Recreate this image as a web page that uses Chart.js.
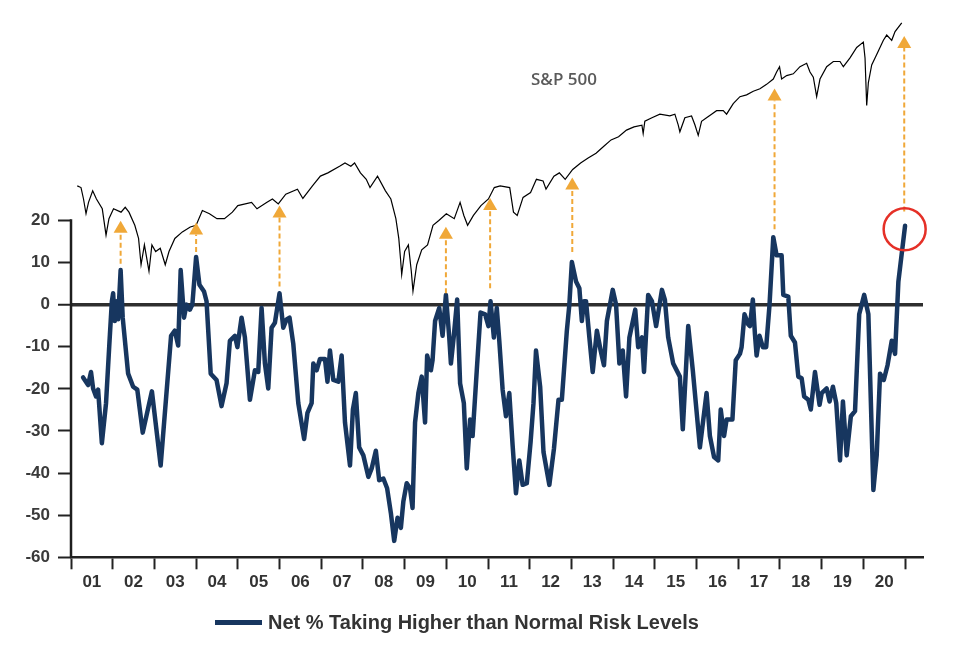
<!DOCTYPE html>
<html>
<head>
<meta charset="utf-8">
<title>Net % Taking Higher than Normal Risk Levels vs S&amp;P 500</title>
<script src="https://cdn.jsdelivr.net/npm/chart.js@4.4.1/dist/chart.umd.min.js"></script>
<style>
    body { margin: 0; background: #fff; }
    #wrap { position: relative; width: 960px; height: 646px; }
    #spxLabel {
        position: absolute; left: 531px; top: 67px;
        font: 600 17px "Open Sans", sans-serif; color: #5a5a5a;
    }
    #legend {
        position: absolute; left: 215px; top: 609px; display: flex; align-items: center;
        font: bold 20px "Liberation Sans", Arial, sans-serif; color: #333; line-height: 26px;
    }
    #legend .swatch { width: 47px; height: 5px; background: #17365f; margin-right: 6px; }
</style>
</head>
<body>
<div id="wrap">
    <canvas id="riskChart"></canvas>
    <div id="spxLabel">S&amp;P 500</div>
    <div id="legend"><span class="swatch"></span><span>Net % Taking Higher than Normal Risk Levels</span></div>
</div>
<script>
const NAVY = '#17365f';
const ARROW_COLOR = '#f0a838';

// Net % of fund managers taking higher than normal risk (left axis)
const riskYears = [
    2001.29, 2001.41, 2001.48, 2001.53, 2001.60, 2001.65, 2001.74, 2001.84, 2001.92, 2001.98,
    2002.01, 2002.05, 2002.10, 2002.13, 2002.19, 2002.24, 2002.37, 2002.49, 2002.59, 2002.72,
    2002.94, 2003.15, 2003.40, 2003.49, 2003.57, 2003.63, 2003.71, 2003.77, 2003.85, 2003.91,
    2004.00, 2004.08, 2004.19, 2004.25, 2004.35, 2004.49, 2004.61, 2004.73, 2004.81, 2004.93,
    2004.99, 2005.09, 2005.17, 2005.29, 2005.41, 2005.49, 2005.57, 2005.65, 2005.73, 2005.81,
    2005.89, 2006.00, 2006.09, 2006.17, 2006.24, 2006.33, 2006.45, 2006.59, 2006.67, 2006.77,
    2006.81, 2006.89, 2006.97, 2007.09, 2007.15, 2007.21, 2007.29, 2007.41, 2007.49, 2007.57,
    2007.69, 2007.76, 2007.83, 2007.91, 2008.01, 2008.13, 2008.21, 2008.31, 2008.39, 2008.49,
    2008.58, 2008.67, 2008.75, 2008.83, 2008.91, 2008.97, 2009.05, 2009.13, 2009.19, 2009.25,
    2009.33, 2009.41, 2009.49, 2009.54, 2009.63, 2009.67, 2009.73, 2009.83, 2009.91, 2009.99,
    2010.07, 2010.11, 2010.18, 2010.26, 2010.33, 2010.42, 2010.49, 2010.57, 2010.63, 2010.73,
    2010.82, 2010.93, 2011.01, 2011.06, 2011.14, 2011.21, 2011.27, 2011.35, 2011.43, 2011.51,
    2011.59, 2011.67, 2011.75, 2011.83, 2011.93, 2012.02, 2012.09, 2012.15, 2012.25, 2012.33,
    2012.47, 2012.58, 2012.69, 2012.77, 2012.89, 2012.95, 2013.01, 2013.11, 2013.19, 2013.25,
    2013.30, 2013.35, 2013.43, 2013.51, 2013.61, 2013.70, 2013.78, 2013.85, 2013.99, 2014.07,
    2014.15, 2014.23, 2014.31, 2014.39, 2014.53, 2014.60, 2014.69, 2014.74, 2014.84, 2014.93,
    2015.03, 2015.17, 2015.24, 2015.32, 2015.44, 2015.60, 2015.67, 2015.80, 2015.91, 2016.08,
    2016.24, 2016.32, 2016.42, 2016.52, 2016.58, 2016.66, 2016.72, 2016.86, 2016.94, 2017.04,
    2017.08, 2017.15, 2017.24, 2017.28, 2017.35, 2017.40, 2017.44, 2017.51, 2017.59, 2017.67,
    2017.75, 2017.84, 2017.92, 2018.04, 2018.08, 2018.20, 2018.26, 2018.36, 2018.44, 2018.52,
    2018.58, 2018.68, 2018.74, 2018.84, 2018.95, 2019.00, 2019.12, 2019.19, 2019.27, 2019.35,
    2019.44, 2019.51, 2019.60, 2019.70, 2019.80, 2019.90, 2020.02, 2020.12, 2020.24, 2020.32,
    2020.40, 2020.49, 2020.58, 2020.68, 2020.76, 2020.84, 2021.00
];
const riskValues = [
    -17.3, -19.1, -16.0, -19.9, -21.8, -20.2, -32.9, -23.4, -9.3, 0.8,
    2.7, -3.9, 0.8, -3.5, 8.2, -3.1, -16.4, -19.5, -20.2, -30.4,
    -20.6, -38.2, -7.4, -6.2, -9.7, 8.2, -3.1, 0, -1.2, 0,
    11.3, 4.7, 3.1, 0.8, -16.4, -17.9, -24.1, -18.7, -8.6, -7.4,
    -10.1, -3.1, -7.8, -22.6, -15.6, -16.0, -0.8, -14.0, -19.9, -5.5,
    -4.3, 2.7, -5.5, -3.5, -3.1, -9.3, -23.4, -31.9, -25.7, -23.4,
    -14.0, -15.6, -12.9, -12.9, -18.3, -10.9, -17.9, -18.3, -12.1, -28.0,
    -38.2, -24.9, -21.0, -33.9, -35.8, -40.9, -38.9, -34.7, -41.7, -41.3,
    -43.6, -49.5, -56.1, -50.6, -53.0, -46.7, -42.4, -43.6, -48.3, -28.0,
    -21.0, -17.1, -28.0, -12.1, -15.6, -13.2, -3.9, -0.8, -7.4, 2.3,
    -7.8, -14.0, -7.4, 1.2, -18.7, -23.4, -38.9, -27.3, -31.2, -15.6,
    -1.9, -2.3, -5.1, 0.8, -7.8, -0.8, -8.6, -20.2, -26.5, -21.0,
    -33.5, -44.8, -37.0, -42.8, -42.4, -32.7, -23.4, -10.9, -19.5, -35.0,
    -42.8, -34.3, -22.6, -22.6, -6.2, 0, 10.1, 5.5, 3.9, -3.9,
    0.8, 0.8, -7.8, -16.0, -6.2, -10.9, -14.4, -3.9, 3.5, 0,
    -14.0, -10.9, -21.8, -7.8, -1.2, -10.1, -7.8, -16.0, 2.3, 0.8,
    -5.1, 3.5, 1.2, -7.8, -14.0, -17.1, -29.6, -5.1, -15.6, -33.9,
    -21.0, -31.2, -36.2, -37.0, -24.9, -31.2, -27.3, -27.3, -13.2, -11.7,
    -10.1, -2.3, -4.7, -5.1, 1.2, -7.0, -12.1, -7.4, -10.1, -10.1,
    0, 16.0, 11.7, 11.7, 2.3, 1.9, -7.4, -9.0, -17.1, -17.5,
    -21.8, -22.6, -24.9, -16.0, -23.8, -21.0, -19.9, -23.0, -19.5, -23.4,
    -37.0, -23.0, -35.8, -26.5, -25.3, -2.3, 2.3, -2.3, -44.0, -35.8,
    -16.4, -17.9, -14.4, -8.6, -11.7, 5.5, 18.7
];

// S&P 500 index level (hidden log axis)
const spxYears = [
    2001.15, 2001.24, 2001.30, 2001.36, 2001.42, 2001.52, 2001.61, 2001.75, 2001.84, 2001.91,
    2002.02, 2002.20, 2002.30, 2002.39, 2002.53, 2002.62, 2002.68, 2002.76, 2002.87, 2002.94,
    2003.03, 2003.14, 2003.26, 2003.35, 2003.49, 2003.67, 2003.86, 2004.00, 2004.15, 2004.32,
    2004.50, 2004.68, 2004.87, 2005.00, 2005.33, 2005.46, 2005.69, 2005.83, 2005.97, 2006.15,
    2006.43, 2006.56, 2006.79, 2006.98, 2007.16, 2007.44, 2007.57, 2007.71, 2007.80, 2007.94,
    2008.08, 2008.17, 2008.35, 2008.54, 2008.67, 2008.79, 2008.86, 2008.90, 2008.93, 2009.00,
    2009.09, 2009.16, 2009.20, 2009.29, 2009.41, 2009.55, 2009.68, 2009.82, 2010.00, 2010.19,
    2010.33, 2010.42, 2010.51, 2010.65, 2010.83, 2011.01, 2011.15, 2011.29, 2011.52, 2011.61,
    2011.70, 2011.84, 2012.02, 2012.16, 2012.32, 2012.39, 2012.58, 2012.71, 2012.85, 2013.03,
    2013.22, 2013.40, 2013.59, 2013.77, 2013.95, 2014.13, 2014.32, 2014.50, 2014.69, 2014.72,
    2014.76, 2014.93, 2015.12, 2015.36, 2015.48, 2015.56, 2015.60, 2015.72, 2015.88, 2015.96,
    2016.04, 2016.12, 2016.24, 2016.36, 2016.48, 2016.64, 2016.72, 2016.88, 2017.04, 2017.20,
    2017.36, 2017.52, 2017.68, 2017.84, 2017.92, 2017.99, 2018.04, 2018.16, 2018.32, 2018.48,
    2018.64, 2018.72, 2018.80, 2018.88, 2018.96, 2019.12, 2019.28, 2019.44, 2019.52, 2019.68,
    2019.84, 2020.00, 2020.04, 2020.08, 2020.12, 2020.20, 2020.32, 2020.48, 2020.56, 2020.68,
    2020.76, 2020.92
];
const spxValues = [
    1318, 1304, 1213, 1105, 1187, 1277, 1213, 1140, 965, 1071,
    1140, 1116, 1151, 1116, 1027, 945, 800, 907, 768, 907,
    870, 888, 800, 870, 945, 985, 1016, 1027, 1128, 1105,
    1071, 1071, 1116, 1163, 1187, 1140, 1187, 1213, 1176, 1251,
    1291, 1217, 1318, 1402, 1431, 1492, 1524, 1492, 1524, 1431,
    1374, 1304, 1402, 1277, 1213, 1071, 945, 835, 752, 870,
    907, 768, 677, 800, 879, 907, 1027, 1059, 1105, 1071,
    1187, 1093, 1027, 1093, 1163, 1213, 1304, 1318, 1304, 1116,
    1093, 1225, 1264, 1374, 1359, 1291, 1402, 1431, 1374, 1462,
    1524, 1572, 1621, 1691, 1763, 1799, 1876, 1915, 1935, 1835,
    1984, 2029, 2075, 2052, 2075, 1940, 1856, 2029, 2052, 1940,
    1815, 1984, 2029, 2075, 2121, 2121, 2075, 2218, 2318, 2345,
    2398, 2436, 2506, 2592, 2710, 2802, 2592, 2649, 2679, 2802,
    2864, 2710, 2622, 2318, 2592, 2802, 2896, 2896, 2802, 2962,
    3166, 3274, 2962, 2193, 2535, 2834, 3029, 3312, 3423, 3312,
    3500, 3700
];

const xTickLabels = ['01', '02', '03', '04', '05', '06', '07', '08', '09', '10',
    '11', '12', '13', '14', '15', '16', '17', '18', '19', '20'];
const yTickValues = [-60, -50, -40, -30, -20, -10, 0, 10, 20];

// dashed arrows: date, start (just above the risk peak) and tip (just under the S&P line), left-axis units
const arrowYears = [2002.19, 2004.00, 2006.00, 2009.99, 2011.05, 2013.02, 2017.87, 2020.98];
const arrowFrom = [9.7, 12.5, 4.3, 2.7, 3.9, 12.5, 17.9, 22.1];
const arrowTo = [19.9, 19.5, 23.5, 18.5, 25.3, 30.2, 51.3, 63.8];
const circleYear = 2020.99;
const circleValue = 17.9;

const FIRST_YEAR = 2001;
const xTickValues = [];
for (let i = 0; i <= xTickLabels.length; i++) {
    xTickValues.push(FIRST_YEAR + i);
    if (i < xTickLabels.length)
        xTickValues.push(FIRST_YEAR + i + 0.5);
}

function pairs(xs, ys) {
    return xs.map((x, i) => ({ x, y: ys[i] }));
}

const overlayPlugin = {
    id: 'overlay',
    beforeDatasetsDraw(chart) {
        const { ctx, chartArea, scales } = chart;
        const y = scales.y;
        // y axis line only spans the labelled range
        ctx.save();
        ctx.strokeStyle = '#1e1e1e';
        ctx.lineWidth = 2.5;
        ctx.beginPath();
        ctx.moveTo(chartArea.left, y.getPixelForValue(yTickValues[yTickValues.length - 1]) - 1);
        ctx.lineTo(chartArea.left, y.getPixelForValue(yTickValues[0]));
        ctx.stroke();
        ctx.restore();
    },
    afterDatasetsDraw(chart) {
        const { ctx, scales } = chart;
        const x = scales.x;
        const y = scales.y;
        ctx.save();
        for (let i = 0; i < arrowYears.length; i++) {
            const px = x.getPixelForValue(arrowYears[i]);
            const y0 = y.getPixelForValue(arrowFrom[i]);
            const y1 = y.getPixelForValue(arrowTo[i]);
            ctx.strokeStyle = ARROW_COLOR;
            ctx.lineWidth = 2;
            ctx.setLineDash([5, 3]);
            ctx.beginPath();
            ctx.moveTo(px, y0);
            ctx.lineTo(px, y1 + 12);
            ctx.stroke();
            ctx.setLineDash([]);
            ctx.fillStyle = ARROW_COLOR;
            ctx.beginPath();
            ctx.moveTo(px, y1);
            ctx.lineTo(px - 7, y1 + 12);
            ctx.lineTo(px + 7, y1 + 12);
            ctx.closePath();
            ctx.fill();
        }
        ctx.strokeStyle = '#e53027';
        ctx.lineWidth = 2.5;
        ctx.beginPath();
        ctx.arc(x.getPixelForValue(circleYear), y.getPixelForValue(circleValue), 21, 0, Math.PI * 2);
        ctx.stroke();
        ctx.restore();
    }
};

const tickFont = { family: '"Liberation Sans", Arial, sans-serif', size: 17, weight: 'bold' };

new Chart(document.getElementById('riskChart'), {
    type: 'line',
    data: {
        datasets: [{
                label: 'Net % Taking Higher than Normal Risk Levels',
                data: pairs(riskYears, riskValues),
                yAxisID: 'y',
                borderColor: NAVY,
                backgroundColor: NAVY,
                borderWidth: 4.5,
                borderJoinStyle: 'round',
                borderCapStyle: 'round',
                pointRadius: 0,
                tension: 0,
                order: 1
            }, {
                label: 'S&P 500',
                data: pairs(spxYears, spxValues),
                yAxisID: 'y2',
                borderColor: '#000',
                borderWidth: 1.2,
                pointRadius: 0,
                tension: 0,
                order: 2
            }]
    },
    options: {
        responsive: true,
        maintainAspectRatio: false,
        animation: false,
        events: [],
        layout: { padding: { left: 0, right: 37, top: 9.6, bottom: 0 } },
        plugins: {
            legend: { display: false },
            tooltip: { enabled: false }
        },
        scales: {
            x: {
                type: 'linear',
                min: FIRST_YEAR,
                max: 2021.43,
                afterBuildTicks: scale => { scale.ticks = xTickValues.map(v => ({ value: v })); },
                afterFit: scale => { scale.height = 88.7; },
                ticks: {
                    autoSkip: false,
                    maxRotation: 0,
                    padding: 3,
                    color: '#333',
                    font: tickFont,
                    callback: (value, index, ticks) => {
                        const v = ticks[index].value;
                        return Number.isInteger(v) ? '' : xTickLabels[Math.floor(v) - FIRST_YEAR];
                    }
                },
                grid: {
                    drawOnChartArea: false,
                    tickLength: 12,
                    tickWidth: 2,
                    tickColor: ctx => Number.isInteger(ctx.tick.value) ? '#222' : 'rgba(0,0,0,0)'
                },
                border: { display: true, color: '#222', width: 2.5 }
            },
            y: {
                type: 'linear',
                min: -60,
                max: 68,
                bounds: 'data',
                afterBuildTicks: scale => { scale.ticks = yTickValues.map(v => ({ value: v })); },
                afterFit: scale => { scale.width = 71; },
                ticks: { padding: 8, color: '#3a3a3a', font: tickFont },
                grid: {
                    drawOnChartArea: true,
                    color: ctx => ctx.tick && ctx.tick.value === 0 ? '#2e2e2e' : 'rgba(0,0,0,0)',
                    lineWidth: ctx => ctx.tick && ctx.tick.value === 0 ? 3.5 : 1,
                    tickLength: 13,
                    tickWidth: 2,
                    tickColor: '#222'
                },
                border: { display: false }
            },
            y2: {
                type: 'logarithmic',
                display: false,
                bounds: 'data',
                min: 125.6,
                max: 3809
            }
        }
    },
    plugins: [overlayPlugin]
});
</script>
</body>
</html>
